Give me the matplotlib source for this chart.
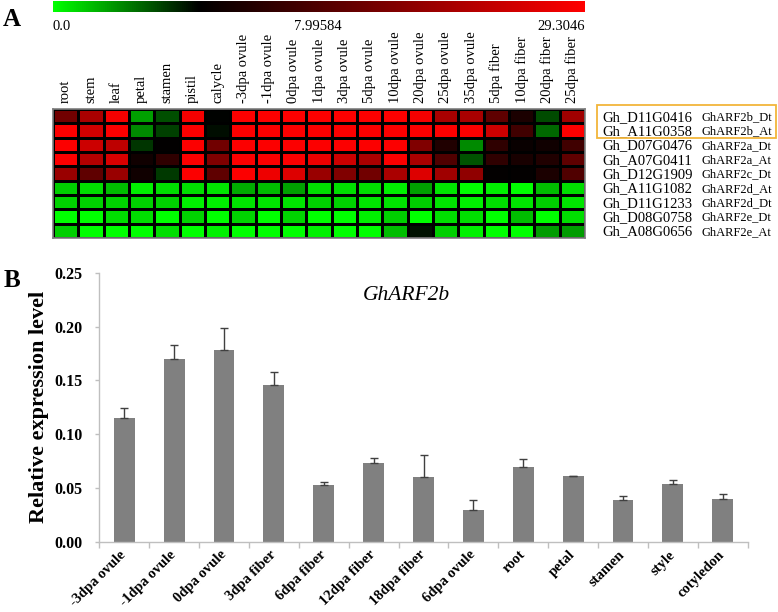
import numpy as np
import matplotlib
matplotlib.use("Agg")
from matplotlib import pyplot as plt
from matplotlib.colors import LinearSegmentedColormap
from matplotlib.patches import Rectangle
from matplotlib.ticker import FixedLocator

plt.rcParams["font.family"] = ["Liberation Serif", "DejaVu Serif"]

# ---- panel A data ----
tissues = ["root", "stem", "leaf", "petal", "stamen", "pistil", "calycle",
           "-3dpa ovule", "-1dpa ovule", "0dpa ovule", "1dpa ovule", "3dpa ovule",
           "5dpa ovule", "10dpa ovule", "20dpa ovule", "25dpa ovule", "35dpa ovule",
           "5dpa fiber", "10dpa fiber", "20dpa fiber", "25dpa fiber"]
gene_ids = ["Gh_D11G0416", "Gh_A11G0358", "Gh_D07G0476", "Gh_A07G0411", "Gh_D12G1909",
            "Gh_A11G1082", "Gh_D11G1233", "Gh_D08G0758", "Gh_A08G0656"]
gene_names = ["GhARF2b_Dt", "GhARF2b_At", "GhARF2a_Dt", "GhARF2a_At", "GhARF2c_Dt",
              "GhARF2d_At", "GhARF2d_Dt", "GhARF2e_Dt", "GhARF2e_At"]
expr = [
    [17.4, 22.2, 28.5, 3.0, 5.5, 28.5, 8.0, 29.0, 29.0, 29.0, 29.0, 29.0, 29.0, 29.0, 28.5, 22.0, 22.0, 16.0, 10.2, 5.7, 21.4],
    [29.0, 25.5, 29.0, 3.7, 6.0, 29.0, 7.6, 29.0, 29.0, 29.0, 29.0, 29.0, 29.0, 29.0, 29.0, 29.0, 29.0, 25.0, 13.3, 4.8, 29.0],
    [29.0, 25.0, 23.7, 6.4, 8.2, 29.0, 17.4, 29.0, 29.0, 29.0, 29.0, 29.0, 29.0, 29.0, 18.7, 10.7, 3.7, 12.0, 8.7, 9.3, 13.3],
    [29.0, 23.0, 26.0, 9.3, 12.0, 29.0, 18.7, 29.0, 29.0, 29.0, 27.9, 25.0, 22.2, 29.0, 22.2, 14.7, 5.4, 12.0, 10.0, 10.7, 16.0],
    [20.8, 16.0, 20.8, 9.3, 6.2, 29.0, 16.0, 29.0, 27.9, 26.4, 20.8, 18.7, 17.4, 22.2, 26.4, 21.4, 20.0, 8.3, 8.3, 10.2, 14.7],
    [1.6, 1.07, 2.13, 0.53, 1.07, 1.07, 0.9, 2.67, 2.13, 3.0, 1.07, 1.07, 1.07, 0.53, 3.0, 0.9, 0.0, 0.53, 0.0, 2.13, 1.07],
    [1.47, 1.47, 1.47, 1.47, 1.47, 0.5, 0.5, 0.9, 0.9, 0.9, 1.47, 1.47, 0.9, 0.9, 1.6, 0.9, 0.5, 1.07, 0.9, 1.6, 0.9],
    [0.0, 0.0, 1.07, 1.07, 0.0, 1.47, 0.0, 1.47, 0.0, 1.47, 0.0, 0.0, 0.53, 1.6, 0.0, 1.07, 1.07, 0.0, 2.13, 0.0, 1.07],
    [1.6, 0.0, 0.0, 0.0, 1.07, 0.0, 0.53, 0.0, 0.0, 0.0, 0.53, 0.0, 0.0, 2.13, 7.5, 1.6, 0.53, 0.0, 0.0, 3.2, 3.2],
]
vmin, vmid, vmax = 0.0, 7.99584, 29.3046

# ---- panel B data ----
samples = ["-3dpa ovule", "-1dpa ovule", "0dpa ovule", "3dpa fiber", "6dpa fiber",
           "12dpa fiber", "18dpa fiber", "6dpa ovule", "root", "petal", "stamen",
           "style", "cotyledon"]
rel_expr = [0.1155, 0.170, 0.178, 0.146, 0.0528, 0.0736, 0.0605, 0.0295, 0.0698,
            0.0609, 0.0391, 0.0537, 0.0395]
rel_err = [0.009, 0.013, 0.021, 0.012, 0.0025, 0.0045, 0.020, 0.009, 0.0075,
           0.0006, 0.003, 0.0035, 0.0046]

W, H = 778, 612
fig = plt.figure(figsize=(W / 100, H / 100), dpi=100)


def px_axes(l, t, r, b):
    return fig.add_axes([l / W, 1 - b / H, (r - l) / W, (b - t) / H])


cmap = LinearSegmentedColormap.from_list(
    "gbr", [(0.0, "#00ff00"), (vmid / vmax, "#000000"), (1.0, "#ff0000")])

# colour bar strip
cax = px_axes(53, 1, 585, 12)
cax.imshow(np.linspace(vmin, vmax, 512)[None, :], cmap=cmap, vmin=vmin, vmax=vmax,
           aspect="auto", extent=[0, 1, 0, 1])
cax.set_axis_off()
fig.text(53 / W, 1 - 26 / H, "0.0", fontsize=10.5, ha="left", va="center")
fig.text(318 / W, 1 - 26 / H, "7.99584", fontsize=10.5, ha="center", va="center")
fig.text(585 / W, 1 - 26 / H, "29.3046", fontsize=10.5, ha="right", va="center")

# heatmap
hax = px_axes(53, 109, 585, 238)
hax.pcolormesh(np.array(expr), cmap=cmap, vmin=vmin, vmax=vmax,
               edgecolors="black", linewidth=0.9)
hax.set_xlim(0, len(tissues))
hax.set_ylim(len(gene_ids), 0)
hax.xaxis.tick_top()
hax.set_xticks(np.arange(len(tissues)) + 0.5)
hax.set_xticklabels(tissues, rotation=90, fontsize=10.5, va="bottom", ha="center")
hax.tick_params(axis="x", length=0, pad=4)
hax.set_yticks([])
for s in hax.spines.values():
    s.set_color("#7f7f7f")
    s.set_linewidth(1.2)
ytr = hax.get_yaxis_transform()
for i, (gid, gname) in enumerate(zip(gene_ids, gene_names)):
    hax.text((602 - 53) / 532, i + 0.58, gid, transform=ytr, fontsize=10.5,
             va="center", ha="left", clip_on=False)
    hax.text((701 - 53) / 532, i + 0.58, gname, transform=ytr, fontsize=9,
             va="center", ha="left", clip_on=False)
fig.patches.append(Rectangle((597 / W, 1 - 138 / H), (776 - 597) / W, (138 - 105) / H,
                             transform=fig.transFigure, fill=False,
                             edgecolor="#f2b53a", linewidth=1.3))

# bar chart
bax = px_axes(99.3, 273, 747.7, 541.7)
x = np.arange(len(samples))
bax.bar(x, rel_expr, width=0.42, color="#808080", zorder=2)
bax.errorbar(x, rel_expr, yerr=[np.zeros(len(x)), rel_err], fmt="none",
             ecolor="#404040", elinewidth=1, capsize=3, capthick=1, zorder=3)
bax.set_xlim(-0.5, len(samples) - 0.5)
bax.set_ylim(0, 0.25)
bax.set_yticks([0.0, 0.05, 0.10, 0.15, 0.20, 0.25])
bax.set_yticklabels(["0.00", "0.05", "0.10", "0.15", "0.20", "0.25"],
                    fontsize=11.5, fontweight="bold")
bax.set_xticks(x)
bax.set_xticklabels(samples, rotation=45, ha="right", va="center",
                    rotation_mode="anchor", fontsize=10.5, fontweight="bold")
bax.xaxis.set_minor_locator(FixedLocator(np.arange(len(samples) + 1) - 0.5))
bax.tick_params(axis="x", which="major", length=0, pad=8)
bax.tick_params(axis="x", which="minor", length=4, color="#bfbfbf", width=1)
bax.tick_params(axis="y", length=3, color="#bfbfbf", width=1, pad=9)
for side in ["top", "right"]:
    bax.spines[side].set_visible(False)
for side in ["left", "bottom"]:
    bax.spines[side].set_color("#bfbfbf")
    bax.spines[side].set_linewidth(1)
bax.set_ylabel("Relative expression level", fontsize=16, fontweight="bold", labelpad=4)
bax.text(0.474, 1 - (296 - 273) / (541.7 - 273), "GhARF2b", transform=bax.transAxes,
         fontsize=15.5, style="italic", ha="center", va="center")

fig.text(12 / W, 1 - 20 / H, "A", fontsize=18, fontweight="bold", ha="center", va="center")
fig.text(12 / W, 1 - 281 / H, "B", fontsize=18, fontweight="bold", ha="center", va="center")

fig.savefig("out.png", dpi=100)
